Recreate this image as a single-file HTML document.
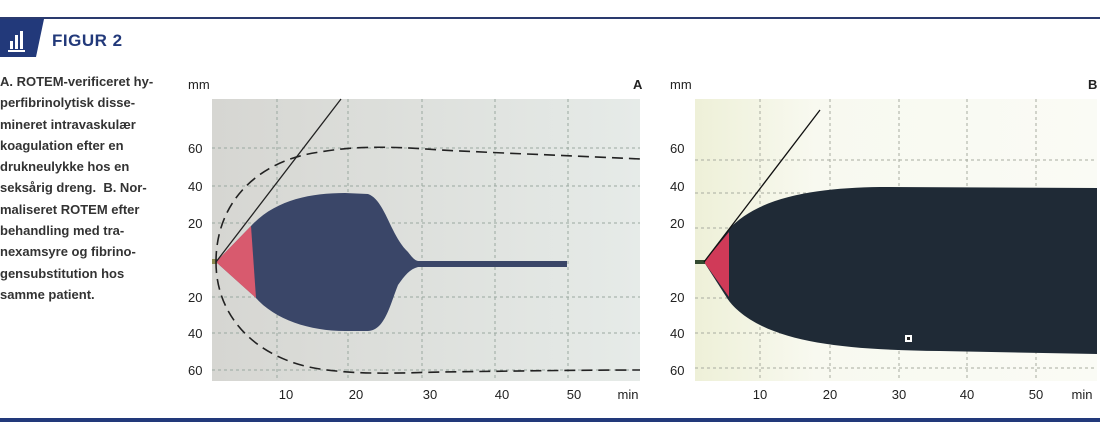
<!DOCTYPE html>
<html><head><meta charset="utf-8"><style>
body{margin:0;width:1100px;height:429px;background:#fff;overflow:hidden;position:relative;font-family:"Liberation Sans",sans-serif;}
.t{position:absolute;font-size:13px;color:#222;}
</style></head><body>
<div style="position:absolute;left:0;top:17px;width:1100px;height:2px;background:#2a3a6e"></div>
<svg style="position:absolute;left:0;top:19px" width="50" height="39"><polygon points="0,0 44,0 36,38 0,38" fill="#22397a"/>
<rect x="10" y="22" width="3" height="8" fill="#fff"/><rect x="15" y="16" width="3" height="14" fill="#fff"/><rect x="20" y="12" width="3" height="18" fill="#fff"/><rect x="8" y="31" width="17" height="2" fill="#fff"/></svg>
<div class="t" style="left:52px;top:31px;font-size:17px;font-weight:bold;color:#22397a;letter-spacing:0.5px">FIGUR 2</div>
<div class="t" style="left:0;top:71px;width:175px;font-size:13px;line-height:21.3px;font-weight:bold;color:#333">A. ROTEM-verificeret hy-<br>perfibrinolytisk disse-<br>mineret intravaskulær<br>koagulation efter en<br>drukneulykke hos en<br>seksårig dreng.&nbsp; B. Nor-<br>maliseret ROTEM efter<br>behandling med tra-<br>nexamsyre og fibrino-<br>gensubstitution hos<br>samme patient.</div>

<svg style="position:absolute;left:0;top:0" width="1100" height="429" font-family="Liberation Sans" font-size="13" fill="#222">
<defs><linearGradient id="gb" x1="0" x2="1"><stop offset="0" stop-color="#eef0d8"/><stop offset="0.3" stop-color="#f8f9f0"/><stop offset="1" stop-color="#fafbf5"/></linearGradient>
<linearGradient id="ga" x1="0" x2="1"><stop offset="0" stop-color="#d6d6d2"/><stop offset="1" stop-color="#e6ebe8"/></linearGradient></defs>
<!-- Panel A -->
<rect x="212" y="99" width="428" height="282" fill="url(#ga)"/>
<g stroke="#9aa8a0" stroke-dasharray="3,3" stroke-width="1">
<line x1="277" y1="99" x2="277" y2="381"/><line x1="348" y1="99" x2="348" y2="381"/><line x1="422" y1="99" x2="422" y2="381"/><line x1="495" y1="99" x2="495" y2="381"/><line x1="568" y1="99" x2="568" y2="381"/>
<line x1="212" y1="148" x2="640" y2="148"/><line x1="212" y1="186" x2="640" y2="186"/><line x1="212" y1="223" x2="640" y2="223"/><line x1="212" y1="297" x2="640" y2="297"/><line x1="212" y1="333" x2="640" y2="333"/><line x1="212" y1="370" x2="640" y2="370"/></g>
<path d="M216,262 L251,226 C275,200 310,193 345,193 L368,194 C385,200 390,235 408,252 C412,257 414,260 418,261 L567,261 L567,267 L418,267 C410,269 405,275 398,285 C390,305 385,330 368,331 L345,331 C310,331 275,320 255,297 Z" fill="#3a4668"/>
<path d="M216,262 L251,226 L256,298 Z" fill="#d85a6e"/>
<rect x="212" y="259" width="5" height="5" fill="#8a8a50"/>
<line x1="216" y1="262" x2="341" y2="99" stroke="#222" stroke-width="1.3"/>
<path d="M216,262 C216,200 260,160 320,152 C360,145 400,147 440,150 C520,154 580,156 640,159" fill="none" stroke="#222" stroke-width="1.6" stroke-dasharray="11,6"/>
<path d="M216,262 C216,320 260,360 320,369 C360,375 400,373 440,372 C520,371 580,370 640,370" fill="none" stroke="#222" stroke-width="1.6" stroke-dasharray="11,6"/>
<text x="188" y="89">mm</text><text x="633" y="89" font-weight="bold">A</text>
<g text-anchor="start"><text x="188" y="153">60</text><text x="188" y="191">40</text><text x="188" y="228">20</text><text x="188" y="302">20</text><text x="188" y="338">40</text><text x="188" y="375">60</text></g>
<g text-anchor="middle"><text x="286" y="399">10</text><text x="356" y="399">20</text><text x="430" y="399">30</text><text x="502" y="399">40</text><text x="574" y="399">50</text><text x="628" y="399">min</text></g>
<!-- Panel B -->
<rect x="695" y="99" width="402" height="282" fill="url(#gb)"/>
<g stroke="#a8aca0" stroke-dasharray="3,3" stroke-width="1">
<line x1="760" y1="99" x2="760" y2="381"/><line x1="830" y1="99" x2="830" y2="381"/><line x1="899" y1="99" x2="899" y2="381"/><line x1="967" y1="99" x2="967" y2="381"/><line x1="1036" y1="99" x2="1036" y2="381"/>
<line x1="695" y1="160" x2="1097" y2="160"/><line x1="695" y1="193" x2="1097" y2="193"/><line x1="695" y1="228" x2="1097" y2="228"/><line x1="695" y1="298" x2="1097" y2="298"/><line x1="695" y1="333" x2="1097" y2="333"/><line x1="695" y1="368" x2="1097" y2="368"/></g>
<path d="M704,262 L728,230 C760,195 820,188 880,187 L1097,188 L1097,354 L940,351 C860,350 800,345 760,325 C740,315 730,303 727,298 Z" fill="#1f2a36"/>
<path d="M704,262 L729,232 L729,297 Z" fill="#d03a58"/>
<rect x="695" y="260" width="10" height="4" fill="#334a30"/>
<line x1="704" y1="262" x2="820" y2="110" stroke="#111" stroke-width="1.3"/>
<rect x="905" y="335" width="7" height="7" fill="#fff"/><rect x="907" y="337" width="3" height="3" fill="#222"/>
<text x="670" y="89">mm</text><text x="1088" y="89" font-weight="bold">B</text>
<text x="670" y="153">60</text><text x="670" y="191">40</text><text x="670" y="228">20</text><text x="670" y="302">20</text><text x="670" y="338">40</text><text x="670" y="375">60</text>
<g text-anchor="middle"><text x="760" y="399">10</text><text x="830" y="399">20</text><text x="899" y="399">30</text><text x="967" y="399">40</text><text x="1036" y="399">50</text><text x="1082" y="399">min</text></g>
</svg>
<div style="position:absolute;left:0;top:418px;width:1100px;height:4px;background:#22397a"></div>
</body></html>
